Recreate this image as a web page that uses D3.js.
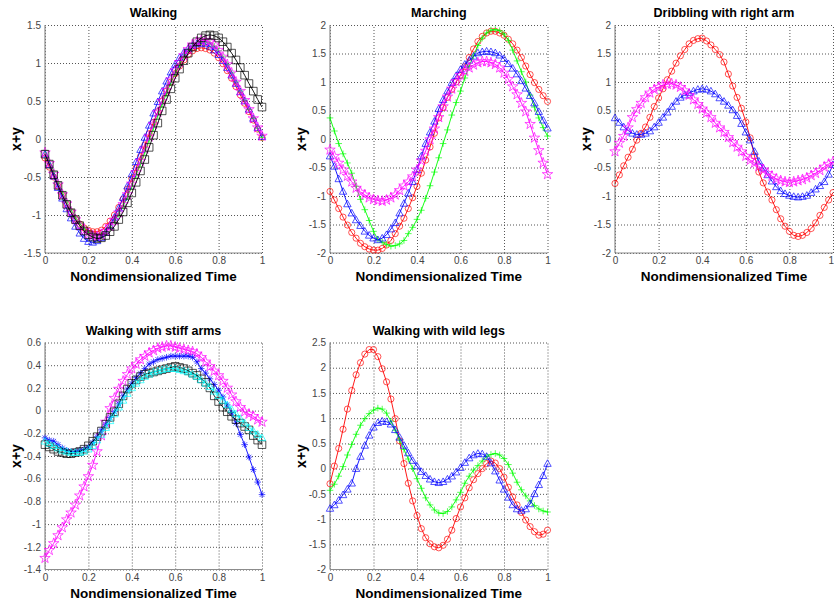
<!DOCTYPE html>
<html>
<head>
<meta charset="utf-8">
<title>x+y against nondimensionalized time</title>
<script src="https://d3js.org/d3.v7.min.js"></script>
<style>
  body { margin: 0; background: #fff; }
  svg { display: block; font-family: "Liberation Sans", Arial, sans-serif; }
</style>
</head>
<body>
<svg id="chart" width="834" height="604"></svg>
<script>
// sample times, shared by every series
var time = [0,0.02,0.04,0.06,0.08,0.1,0.12,0.14,0.16,0.18,0.2,0.22,0.24,0.26,0.28,0.3,0.32,0.34,0.36,0.38,0.4,0.42,0.44,0.46,0.48,0.5,0.52,0.54,0.56,0.58,0.6,0.62,0.64,0.66,0.68,0.7,0.72,0.74,0.76,0.78,0.8,0.82,0.84,0.86,0.88,0.9,0.92,0.94,0.96,0.98,1];
var xTicks = [0,0.2,0.4,0.6,0.8,1];

// Walking
var walkRed = [-0.25,-0.37,-0.50,-0.62,-0.74,-0.86,-0.96,-1.05,-1.12,-1.17,-1.20,-1.22,-1.22,-1.20,-1.15,-1.08,-1.00,-0.90,-0.79,-0.66,-0.52,-0.38,-0.23,-0.08,0.07,0.22,0.36,0.50,0.63,0.75,0.86,0.96,1.04,1.11,1.16,1.19,1.20,1.19,1.17,1.13,1.07,0.99,0.90,0.80,0.69,0.58,0.47,0.36,0.25,0.13,0.02];
var walkGreen = [-0.15,-0.29,-0.43,-0.57,-0.70,-0.82,-0.93,-1.03,-1.11,-1.18,-1.23,-1.26,-1.27,-1.26,-1.22,-1.16,-1.08,-0.99,-0.88,-0.76,-0.62,-0.47,-0.32,-0.17,-0.01,0.15,0.31,0.46,0.60,0.74,0.87,0.98,1.08,1.16,1.22,1.26,1.28,1.28,1.26,1.22,1.16,1.08,0.98,0.87,0.75,0.63,0.51,0.39,0.27,0.14,0.02];
var walkBlue = [-0.20,-0.34,-0.49,-0.64,-0.78,-0.92,-1.04,-1.15,-1.24,-1.31,-1.35,-1.36,-1.34,-1.30,-1.23,-1.14,-1.03,-0.91,-0.77,-0.62,-0.46,-0.30,-0.14,0.02,0.18,0.34,0.49,0.63,0.76,0.88,0.98,1.07,1.14,1.19,1.23,1.25,1.26,1.25,1.22,1.17,1.11,1.03,0.94,0.84,0.73,0.62,0.50,0.39,0.27,0.15,0.03];
var walkMagenta = [-0.18,-0.32,-0.46,-0.60,-0.73,-0.85,-0.96,-1.06,-1.14,-1.20,-1.25,-1.27,-1.28,-1.26,-1.21,-1.15,-1.07,-0.97,-0.86,-0.73,-0.59,-0.44,-0.29,-0.13,0.03,0.19,0.35,0.50,0.64,0.78,0.90,1.01,1.10,1.18,1.24,1.28,1.30,1.30,1.28,1.24,1.17,1.08,0.98,0.87,0.75,0.63,0.51,0.39,0.27,0.15,0.04];
var walkBlack = [-0.20,-0.33,-0.47,-0.61,-0.74,-0.86,-0.97,-1.06,-1.14,-1.21,-1.26,-1.29,-1.31,-1.30,-1.27,-1.22,-1.15,-1.06,-0.96,-0.84,-0.71,-0.57,-0.42,-0.27,-0.11,0.05,0.21,0.37,0.52,0.66,0.80,0.92,1.03,1.13,1.21,1.28,1.33,1.36,1.37,1.36,1.33,1.28,1.21,1.13,1.04,0.94,0.84,0.73,0.63,0.52,0.42];
var walkTicks = [-1.5,-1,-0.5,0,0.5,1,1.5];

// Marching
var marchRed = [-0.92,-1.07,-1.22,-1.37,-1.51,-1.64,-1.74,-1.83,-1.89,-1.93,-1.95,-1.95,-1.92,-1.86,-1.78,-1.66,-1.53,-1.39,-1.22,-1.03,-0.83,-0.60,-0.37,-0.14,0.10,0.37,0.55,0.73,0.87,1.00,1.12,1.27,1.43,1.58,1.71,1.80,1.86,1.89,1.89,1.86,1.82,1.75,1.67,1.56,1.43,1.28,1.13,0.99,0.87,0.76,0.66];
var marchGreen = [0.37,0.14,-0.08,-0.26,-0.42,-0.60,-0.83,-1.06,-1.24,-1.43,-1.62,-1.76,-1.81,-1.85,-1.88,-1.87,-1.84,-1.78,-1.66,-1.55,-1.41,-1.25,-1.04,-0.82,-0.58,-0.33,-0.08,0.16,0.42,0.64,0.84,1.07,1.28,1.46,1.64,1.77,1.86,1.91,1.92,1.90,1.84,1.73,1.56,1.37,1.18,1.00,0.77,0.56,0.37,0.20,0.05];
var marchBlue = [-0.30,-0.48,-0.70,-0.92,-1.14,-1.30,-1.42,-1.52,-1.62,-1.69,-1.74,-1.77,-1.74,-1.68,-1.58,-1.47,-1.30,-1.13,-0.95,-0.75,-0.54,-0.30,-0.08,0.12,0.31,0.53,0.69,0.84,0.99,1.11,1.22,1.31,1.38,1.45,1.51,1.53,1.54,1.53,1.51,1.47,1.41,1.32,1.24,1.14,1.02,0.89,0.76,0.63,0.48,0.33,0.19];
var marchMagenta = [-0.19,-0.30,-0.42,-0.54,-0.65,-0.75,-0.86,-0.93,-0.98,-1.03,-1.06,-1.08,-1.09,-1.07,-1.03,-0.98,-0.90,-0.82,-0.75,-0.66,-0.54,-0.38,-0.21,-0.01,0.18,0.38,0.57,0.74,0.88,1.01,1.12,1.19,1.25,1.30,1.34,1.36,1.36,1.34,1.31,1.25,1.16,1.05,0.92,0.78,0.63,0.48,0.26,0.02,-0.20,-0.42,-0.62];
var twoTicks = [-2,-1.5,-1,-0.5,0,0.5,1,1.5,2];

// Dribbling with right arm
var dribRed = [-0.78,-0.63,-0.47,-0.32,-0.18,-0.02,0.10,0.21,0.38,0.57,0.72,0.88,1.04,1.19,1.33,1.46,1.57,1.67,1.73,1.76,1.77,1.72,1.65,1.57,1.48,1.35,1.14,0.93,0.73,0.54,0.30,0.02,-0.30,-0.58,-0.77,-0.93,-1.07,-1.24,-1.40,-1.53,-1.62,-1.69,-1.71,-1.69,-1.64,-1.57,-1.47,-1.34,-1.20,-1.07,-0.94];
var dribBlue = [0.37,0.29,0.21,0.15,0.10,0.08,0.08,0.10,0.14,0.21,0.29,0.38,0.47,0.57,0.66,0.73,0.77,0.81,0.84,0.87,0.88,0.87,0.84,0.79,0.72,0.66,0.59,0.51,0.41,0.27,0.12,-0.02,-0.22,-0.39,-0.51,-0.63,-0.74,-0.84,-0.91,-0.96,-0.99,-1.01,-1.02,-1.01,-0.99,-0.94,-0.88,-0.82,-0.75,-0.62,-0.45];
var dribMagenta = [-0.22,-0.07,0.05,0.20,0.38,0.52,0.63,0.73,0.81,0.87,0.91,0.95,0.96,0.97,0.95,0.91,0.85,0.77,0.69,0.61,0.53,0.46,0.38,0.28,0.20,0.12,0.03,-0.06,-0.14,-0.22,-0.30,-0.37,-0.42,-0.48,-0.54,-0.60,-0.65,-0.70,-0.73,-0.75,-0.76,-0.75,-0.73,-0.71,-0.68,-0.64,-0.60,-0.55,-0.49,-0.44,-0.40];

// Walking with stiff arms
var stiffMagenta = [-1.30,-1.23,-1.17,-1.10,-1.03,-0.96,-0.90,-0.83,-0.75,-0.67,-0.58,-0.48,-0.36,-0.22,-0.10,0.02,0.11,0.19,0.26,0.32,0.37,0.41,0.45,0.48,0.51,0.53,0.55,0.56,0.57,0.57,0.56,0.55,0.54,0.53,0.52,0.50,0.47,0.43,0.39,0.35,0.31,0.26,0.20,0.14,0.08,0.03,-0.01,-0.03,-0.05,-0.08,-0.10];
var stiffBlue = [-0.24,-0.26,-0.27,-0.30,-0.33,-0.35,-0.36,-0.36,-0.35,-0.34,-0.32,-0.28,-0.23,-0.17,-0.12,-0.06,-0.01,0.06,0.13,0.19,0.24,0.29,0.33,0.37,0.41,0.43,0.45,0.46,0.47,0.48,0.48,0.48,0.48,0.48,0.47,0.43,0.37,0.33,0.28,0.23,0.18,0.12,0.05,-0.02,-0.11,-0.21,-0.30,-0.41,-0.52,-0.63,-0.74];
var stiffBlack = [-0.30,-0.32,-0.34,-0.36,-0.37,-0.38,-0.38,-0.37,-0.36,-0.34,-0.31,-0.27,-0.23,-0.18,-0.12,-0.06,-0.01,0.06,0.13,0.19,0.24,0.27,0.30,0.32,0.33,0.34,0.35,0.36,0.37,0.38,0.39,0.38,0.37,0.35,0.33,0.31,0.28,0.25,0.20,0.13,0.08,0.03,-0.01,-0.05,-0.08,-0.11,-0.14,-0.17,-0.22,-0.26,-0.30];
var stiffCyan = [-0.27,-0.29,-0.31,-0.33,-0.35,-0.36,-0.37,-0.37,-0.37,-0.36,-0.34,-0.31,-0.26,-0.21,-0.15,-0.09,-0.03,0.03,0.09,0.15,0.20,0.24,0.27,0.30,0.32,0.34,0.35,0.36,0.37,0.37,0.37,0.36,0.35,0.34,0.32,0.30,0.27,0.24,0.21,0.17,0.13,0.09,0.05,0.01,-0.03,-0.07,-0.11,-0.15,-0.18,-0.21,-0.24];
var stiffTicks = [-1.4,-1.2,-1,-0.8,-0.6,-0.4,-0.2,0,0.2,0.4,0.6];

// Walking with wild legs
var wildRed = [-0.30,0.05,0.40,0.78,1.18,1.55,1.86,2.10,2.27,2.36,2.36,2.22,1.98,1.72,1.38,0.99,0.55,0.10,-0.29,-0.64,-0.93,-1.19,-1.37,-1.49,-1.55,-1.57,-1.52,-1.40,-1.22,-0.99,-0.76,-0.58,-0.38,-0.22,-0.10,0.00,0.10,0.15,0.11,0.00,-0.17,-0.37,-0.56,-0.72,-0.87,-1.02,-1.15,-1.25,-1.32,-1.30,-1.22];
var wildGreen = [-0.43,-0.31,-0.15,0.04,0.27,0.48,0.68,0.86,0.99,1.09,1.16,1.20,1.18,1.10,0.94,0.76,0.57,0.38,0.19,0.00,-0.20,-0.39,-0.58,-0.72,-0.82,-0.88,-0.89,-0.85,-0.76,-0.62,-0.47,-0.29,-0.15,-0.03,0.06,0.15,0.24,0.28,0.30,0.27,0.20,0.08,-0.09,-0.27,-0.42,-0.54,-0.64,-0.73,-0.80,-0.84,-0.86];
var wildBlue = [-0.79,-0.72,-0.63,-0.52,-0.41,-0.29,0.00,0.24,0.46,0.66,0.82,0.91,0.94,0.93,0.88,0.77,0.62,0.46,0.31,0.16,0.05,-0.06,-0.14,-0.21,-0.26,-0.28,-0.26,-0.21,-0.15,-0.07,0.02,0.12,0.21,0.27,0.30,0.29,0.24,0.11,-0.05,-0.23,-0.41,-0.57,-0.72,-0.80,-0.83,-0.80,-0.70,-0.50,-0.32,-0.14,0.10];
var wildTicks = [-2,-1.5,-1,-0.5,0,0.5,1,1.5,2,2.5];

var panels = [
  { title: "Walking", left: 45, right: 262, top: 25, bottom: 253, yDomain: [-1.5, 1.5], yTicks: walkTicks,
    series: [[walkRed, "#ff0000", "o"], [walkGreen, "#00ff00", "+"], [walkBlue, "#0000ff", "^"],
             [walkMagenta, "#ff00ff", "p"], [walkBlack, "#000000", "s"]] },
  { title: "Marching", left: 330, right: 547.5, top: 25, bottom: 253, yDomain: [-2, 2], yTicks: twoTicks,
    series: [[marchRed, "#ff0000", "o"], [marchGreen, "#00ff00", "+"], [marchBlue, "#0000ff", "^"],
             [marchMagenta, "#ff00ff", "p"]] },
  { title: "Dribbling with right arm", left: 615, right: 833, top: 25, bottom: 253, yDomain: [-2, 2], yTicks: twoTicks,
    series: [[dribRed, "#ff0000", "o"], [dribBlue, "#0000ff", "^"], [dribMagenta, "#ff00ff", "p"]] },
  { title: "Walking with stiff arms", left: 45, right: 262, top: 342.5, bottom: 569.5, yDomain: [-1.4, 0.6], yTicks: stiffTicks,
    series: [[stiffMagenta, "#ff00ff", "p"], [stiffBlue, "#0000ff", "*"], [stiffBlack, "#000000", "s"],
             [stiffCyan, "#00ffff", "^"]] },
  { title: "Walking with wild legs", left: 330, right: 547.5, top: 342.5, bottom: 569.5, yDomain: [-2, 2.5], yTicks: wildTicks,
    series: [[wildRed, "#ff0000", "o"], [wildGreen, "#00ff00", "+"], [wildBlue, "#0000ff", "^"]] }
];

function markerPath(kind) {
  switch (kind) {
    case "o": return d3.symbol(d3.symbolCircle, 30)();
    case "s": return "M-3.8,-3.8H3.8V3.8H-3.8Z";
    case "^": return "M0,-3.8L3.7,2.8L-3.7,2.8Z";
    case "+": return "M-3.3,0H3.3M0,-3.3V3.3";
    case "*": return "M-3.3,0H3.3M0,-3.3V3.3M-2.4,-2.4L2.4,2.4M-2.4,2.4L2.4,-2.4";
    case "p": return d3.symbol(d3.symbolStar, 34)();
  }
}

function tickText(v) { return String(+v.toFixed(1)); }

var svg = d3.select("#chart");
var svgWidth = +svg.attr("width");

panels.forEach(function(p) {
  var x = d3.scaleLinear().domain([0, 1]).range([p.left, p.right]);
  var y = d3.scaleLinear().domain(p.yDomain).range([p.bottom, p.top]);
  var g = svg.append("g");

  // dotted grid
  var gx = g.append("g").attr("transform", "translate(0," + p.bottom + ")")
    .call(d3.axisBottom(x).tickValues(xTicks).tickSize(-(p.bottom - p.top)).tickFormat(""));
  var gy = g.append("g").attr("transform", "translate(" + p.left + ",0)")
    .call(d3.axisLeft(y).tickValues(p.yTicks).tickSize(-(p.right - p.left)).tickFormat(""));
  [gx, gy].forEach(function(a) {
    a.select(".domain").remove();
    a.selectAll("line").attr("stroke", "#555").attr("stroke-width", 1).attr("stroke-dasharray", "1,2");
  });

  // solid left / bottom axis lines
  g.append("line").attr("x1", p.left).attr("x2", p.left).attr("y1", p.top).attr("y2", p.bottom)
    .attr("stroke", "#8c8c8c").attr("stroke-width", 1.2);
  g.append("line").attr("x1", p.left).attr("x2", p.right).attr("y1", p.bottom).attr("y2", p.bottom)
    .attr("stroke", "#8c8c8c").attr("stroke-width", 1.2);

  // tick labels
  var lx = g.append("g").attr("transform", "translate(0," + p.bottom + ")")
    .call(d3.axisBottom(x).tickValues(xTicks).tickSize(0).tickPadding(4).tickFormat(tickText));
  var ly = g.append("g").attr("transform", "translate(" + p.left + ",0)")
    .call(d3.axisLeft(y).tickValues(p.yTicks).tickSize(0).tickPadding(4).tickFormat(tickText));
  [lx, ly].forEach(function(a) {
    a.select(".domain").remove();
    a.attr("font-family", "'Liberation Sans', Arial, sans-serif").attr("font-size", 10);
    a.selectAll("text").attr("fill", "#444");
  });
  // keep the last x label inside the page when the panel touches the right edge
  lx.selectAll(".tick").each(function(d) {
    var t = d3.select(this).select("text");
    var half = t.node().getComputedTextLength() / 2;
    if (x(d) + half > svgWidth) t.attr("text-anchor", "end").attr("x", svgWidth - x(d) - 0.5 + half - half);
  });

  // series
  var line = d3.line().x(function(d, i) { return x(time[i]); }).y(function(d) { return y(d); });
  p.series.forEach(function(s) {
    var values = s[0], color = s[1], kind = s[2];
    g.append("path").datum(values).attr("d", line)
      .attr("fill", "none").attr("stroke", color).attr("stroke-width", 0.9);
    g.append("g").selectAll("path").data(values).join("path")
      .attr("d", markerPath(kind))
      .attr("transform", function(d, i) { return "translate(" + x(time[i]) + "," + y(d) + ")"; })
      .attr("fill", "none").attr("stroke", color).attr("stroke-width", 0.8).attr("stroke-opacity", 0.85);
  });

  // title and axis labels
  var cx = (p.left + p.right) / 2;
  g.append("text").attr("x", cx).attr("y", p.top - 8).attr("text-anchor", "middle")
    .attr("font-size", 12.5).attr("font-weight", "bold").text(p.title);
  g.append("text").attr("x", cx).attr("y", p.bottom + 28).attr("text-anchor", "middle")
    .attr("font-size", 13.5).attr("font-weight", "bold").text("Nondimensionalized Time");
  g.append("text").attr("transform", "translate(" + (p.left - 24) + "," + ((p.top + p.bottom) / 2) + ") rotate(-90)")
    .attr("text-anchor", "middle").attr("font-size", 14).attr("font-weight", "bold").text("x+y");
});
</script>
</body>
</html>
